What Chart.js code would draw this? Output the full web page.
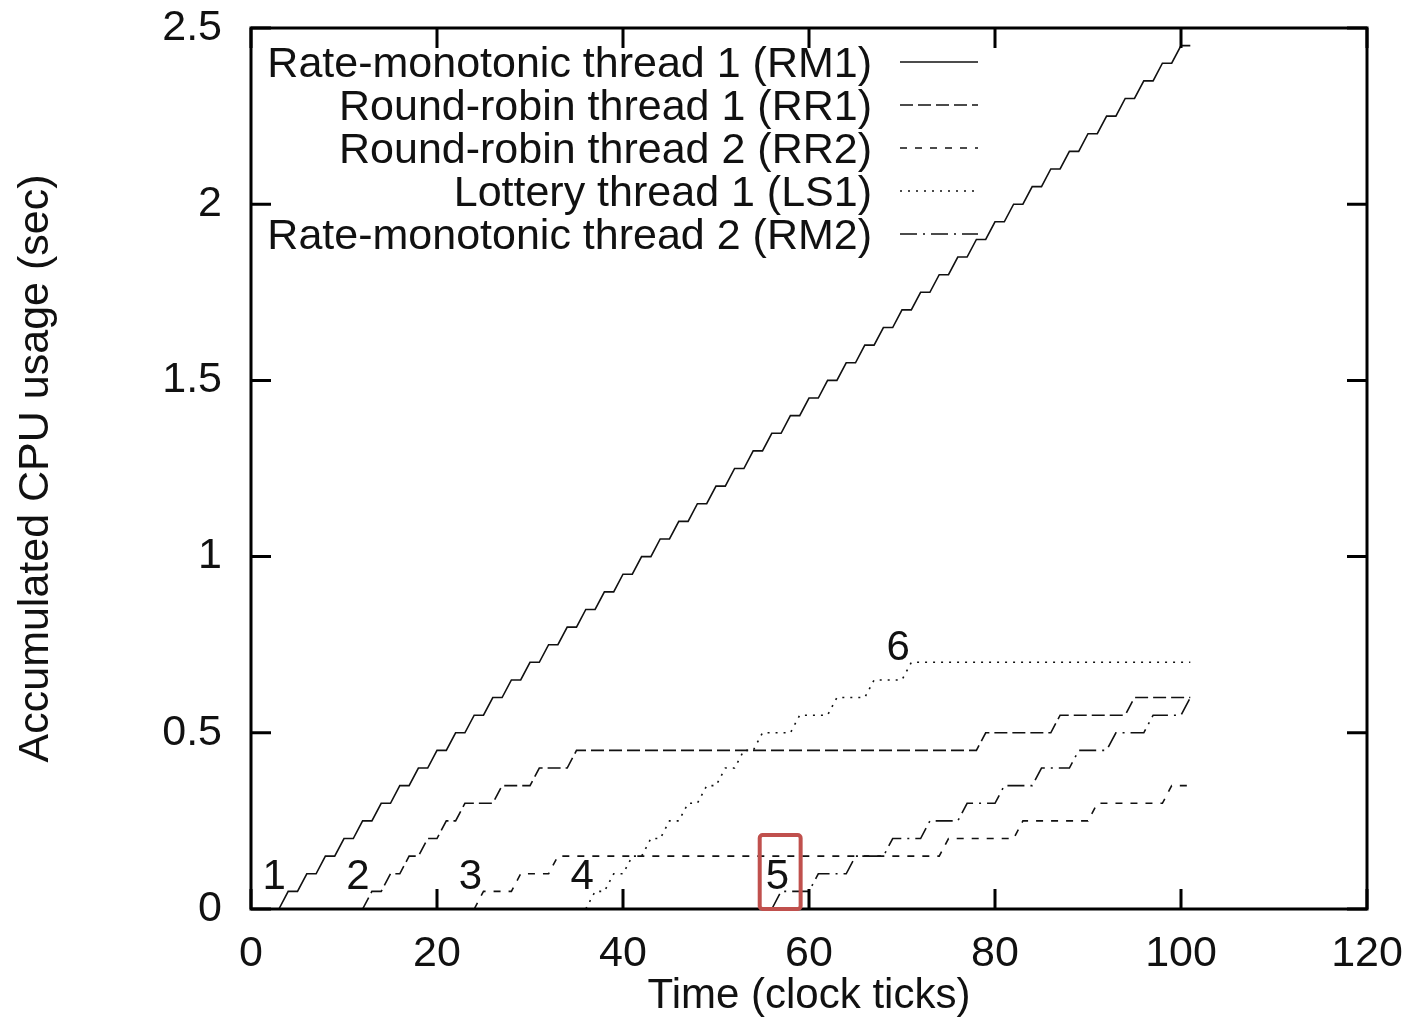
<!DOCTYPE html>
<html>
<head>
<meta charset="utf-8">
<script src="https://cdn.jsdelivr.net/npm/chart.js@4.4.0/dist/chart.umd.min.js"></script>
<style>
  html, body { margin: 0; padding: 0; background: #fff; }
  #wrap { width: 1409px; height: 1017px; }
</style>
</head>
<body>
<div id="wrap"><canvas id="grafico" width="1409" height="1017"></canvas></div>
<script>
// each series: first clock tick, then accumulated CPU usage (sec) at every tick after it
var rm1Start = 3;
var rm1 = [0,
  0.05,0.05, 0.1,0.1, 0.15,0.15, 0.2,0.2, 0.25,0.25, 0.3,0.3, 0.35,0.35, 0.4,0.4, 0.45,0.45, 0.5,0.5,
  0.55,0.55, 0.6,0.6, 0.65,0.65, 0.7,0.7, 0.75,0.75, 0.8,0.8, 0.85,0.85, 0.9,0.9, 0.95,0.95, 1,1,
  1.05,1.05, 1.1,1.1, 1.15,1.15, 1.2,1.2, 1.25,1.25, 1.3,1.3, 1.35,1.35, 1.4,1.4, 1.45,1.45, 1.5,1.5,
  1.55,1.55, 1.6,1.6, 1.65,1.65, 1.7,1.7, 1.75,1.75, 1.8,1.8, 1.85,1.85, 1.9,1.9, 1.95,1.95, 2,2,
  2.05,2.05, 2.1,2.1, 2.15,2.15, 2.2,2.2, 2.25,2.25, 2.3,2.3, 2.35,2.35, 2.4,2.4, 2.45,2.45];

var rr1Start = 12;
var rr1 = [0, 0.05,0.05, 0.1,0.1, 0.15,0.15, 0.2,0.2, 0.25,0.25,
  0.3,0.3,0.3,0.3, 0.35,0.35,0.35,0.35, 0.4,0.4,0.4,0.4,
  0.45,0.45,0.45,0.45,0.45,0.45,0.45,0.45,0.45,0.45,0.45,
  0.45,0.45,0.45,0.45,0.45,0.45,0.45,0.45,0.45,0.45,0.45,
  0.45,0.45,0.45,0.45,0.45,0.45,0.45,0.45,0.45,0.45,0.45,
  0.45,0.45,0.45,0.45,0.45,0.45,0.45,0.45,0.45,0.45,0.45,
  0.5,0.5,0.5,0.5,0.5,0.5,0.5,0.5,
  0.55,0.55,0.55,0.55,0.55,0.55,0.55,0.55,
  0.6,0.6,0.6,0.6,0.6,0.6,0.6];

var rr2Start = 24;
var rr2 = [0, 0.05,0.05,0.05,0.05, 0.1,0.1,0.1,0.1,
  0.15,0.15,0.15,0.15,0.15,0.15,0.15,0.15,0.15,0.15,0.15,0.15,0.15,0.15,
  0.15,0.15,0.15,0.15,0.15,0.15,0.15,0.15,0.15,0.15,0.15,0.15,0.15,0.15,
  0.15,0.15,0.15,0.15,0.15,0.15,0.15,0.15,0.15,0.15,0.15,0.15,0.15,0.15,
  0.2,0.2,0.2,0.2,0.2,0.2,0.2,0.2,
  0.25,0.25,0.25,0.25,0.25,0.25,0.25,0.25,
  0.3,0.3,0.3,0.3,0.3,0.3,0.3,0.3,
  0.35,0.35,0.35];

var ls1Start = 36;
var ls1 = [0, 0.05,0.05, 0.1,0.1, 0.15,0.15, 0.2,0.2, 0.25,0.25, 0.3,0.3, 0.35,0.35, 0.4,0.4, 0.45,0.45,
  0.5,0.5,0.5,0.5, 0.55,0.55,0.55,0.55, 0.6,0.6,0.6,0.6, 0.65,0.65,0.65,0.65,
  0.7,0.7,0.7,0.7,0.7,0.7,0.7,0.7,0.7,0.7,0.7,0.7,0.7,0.7,0.7,0.7,
  0.7,0.7,0.7,0.7,0.7,0.7,0.7,0.7,0.7,0.7,0.7,0.7,0.7,0.7,0.7];

var rm2Start = 56;
var rm2 = [0, 0.05,0.05,0.05,0.05, 0.1,0.1,0.1,0.1, 0.15,0.15,0.15,0.15, 0.2,0.2,0.2,0.2,
  0.25,0.25,0.25,0.25, 0.3,0.3,0.3,0.3, 0.35,0.35,0.35,0.35, 0.4,0.4,0.4,0.4,
  0.45,0.45,0.45,0.45, 0.5,0.5,0.5,0.5, 0.55,0.55,0.55,0.55, 0.6];

var seriesNames = ['Rate-monotonic thread 1 (RM1)', 'Round-robin thread 1 (RR1)',
  'Round-robin thread 2 (RR2)', 'Lottery thread 1 (LS1)', 'Rate-monotonic thread 2 (RM2)'];

// numbered marks on the plot (in data units) and the highlighted box around "5"
var markLabels = ['1', '2', '3', '4', '5', '6'];
var markX = [2.5, 11.5, 23.6, 35.6, 56.6, 69.6];
var markY = [0.1, 0.1, 0.1, 0.1, 0.1, 0.75];
var boxX = [54.7, 59.1];
var boxY = [0, 0.21];

var fonte = 'Liberation Sans, Arial, sans-serif';
Chart.defaults.font.family = fonte;
Chart.defaults.color = '#111';

var toPoints = function(start, values){
    return values.map(function(v, i){ return {x: start + i, y: v}; });
};

var linha = function(label, start, values, dash){
    return {
        label: label,
        data: toPoints(start, values),
        borderColor: '#111',
        borderWidth: 1.6,
        borderDash: dash,
        borderCapStyle: 'butt',
        borderJoinStyle: 'miter',
        pointRadius: 0,
        tension: 0,
        fill: false
    };
};

var moldura = {
    id: 'moldura',
    afterDraw: function(chart){
        var ctx = chart.ctx, a = chart.chartArea;
        var sx = chart.scales.x, sy = chart.scales.y;
        ctx.save();
        ctx.strokeStyle = '#000';
        ctx.lineWidth = 3;
        ctx.strokeRect(a.left, a.top, a.right - a.left, a.bottom - a.top);
        // inward ticks, mirrored on top and right
        sx.ticks.forEach(function(t){
            var px = sx.getPixelForValue(t.value);
            ctx.beginPath();
            ctx.moveTo(px, a.bottom); ctx.lineTo(px, a.bottom - 20);
            ctx.moveTo(px, a.top); ctx.lineTo(px, a.top + 20);
            ctx.stroke();
        });
        sy.ticks.forEach(function(t){
            var py = sy.getPixelForValue(t.value);
            ctx.beginPath();
            ctx.moveTo(a.left, py); ctx.lineTo(a.left + 20, py);
            ctx.moveTo(a.right, py); ctx.lineTo(a.right - 20, py);
            ctx.stroke();
        });

        // legend, gnuplot style: text right-aligned, line sample on the right
        ctx.font = '43px ' + fonte;
        ctx.textAlign = 'right';
        ctx.textBaseline = 'alphabetic';
        ctx.fillStyle = '#111';
        chart.data.datasets.forEach(function(ds, i){
            var cy = a.top + 34 + i * 43;
            ctx.fillText(ds.label, a.left + 621, cy + 15);
            ctx.beginPath();
            ctx.lineWidth = 1.6;
            ctx.strokeStyle = '#111';
            ctx.setLineDash(ds.borderDash || []);
            ctx.moveTo(a.left + 649, cy);
            ctx.lineTo(a.left + 727, cy);
            ctx.stroke();
            ctx.setLineDash([]);
        });

        // numbered marks
        ctx.textAlign = 'center';
        ctx.font = '42px ' + fonte;
        markLabels.forEach(function(m, i){
            ctx.fillText(m, sx.getPixelForValue(markX[i]), sy.getPixelForValue(markY[i]) + 15);
        });

        // red highlight box
        var x0 = sx.getPixelForValue(boxX[0]), x1 = sx.getPixelForValue(boxX[1]);
        var y0 = sy.getPixelForValue(boxY[1]), y1 = sy.getPixelForValue(boxY[0]);
        ctx.strokeStyle = '#c0504d';
        ctx.lineWidth = 4;
        ctx.beginPath();
        ctx.roundRect(x0, y0, x1 - x0, y1 - y0, 3);
        ctx.stroke();
        ctx.restore();
    }
};

var grafico = new Chart(document.getElementById('grafico'), {
    type: 'line',
    data: {
        datasets: [
            linha(seriesNames[0], rm1Start, rm1, []),
            linha(seriesNames[1], rr1Start, rr1, [13, 5]),
            linha(seriesNames[2], rr2Start, rr2, [7, 8]),
            linha(seriesNames[3], ls1Start, ls1, [2, 6]),
            linha(seriesNames[4], rm2Start, rm2, [17, 6, 2, 6])
        ]
    },
    options: {
        responsive: false,
        animation: false,
        layout: { padding: { left: 0, top: 28, right: 42, bottom: 0 } },
        plugins: {
            legend: { display: false },
            tooltip: { enabled: false }
        },
        scales: {
            x: {
                type: 'linear',
                min: 0,
                max: 120,
                ticks: { stepSize: 20, font: { size: 43 }, padding: 19, maxRotation: 0 },
                grid: { display: false, drawTicks: false, tickLength: 0 },
                border: { display: false },
                title: { display: true, text: 'Time (clock ticks)', font: { size: 42, lineHeight: 1.0 }, padding: { top: 0, bottom: 0 } },
                afterFit: function(s){
                    s.height = 108;
                    s.paddingLeft = 0;
                    s.paddingRight = 0;
                }
            },
            y: {
                min: 0,
                max: 2.5,
                ticks: {
                    stepSize: 0.5,
                    font: { size: 43 },
                    padding: 29,
                    callback: function(v){ return String(v); }
                },
                grid: { display: false, drawTicks: false, tickLength: 0 },
                border: { display: false },
                title: { display: true, text: 'Accumulated CPU usage (sec)', font: { size: 43 }, padding: { top: 10, bottom: 0 } },
                afterFit: function(s){
                    s.width = 251;
                    s.paddingTop = 0;
                    s.paddingBottom = 0;
                }
            }
        }
    },
    plugins: [moldura]
});
</script>
</body>
</html>
